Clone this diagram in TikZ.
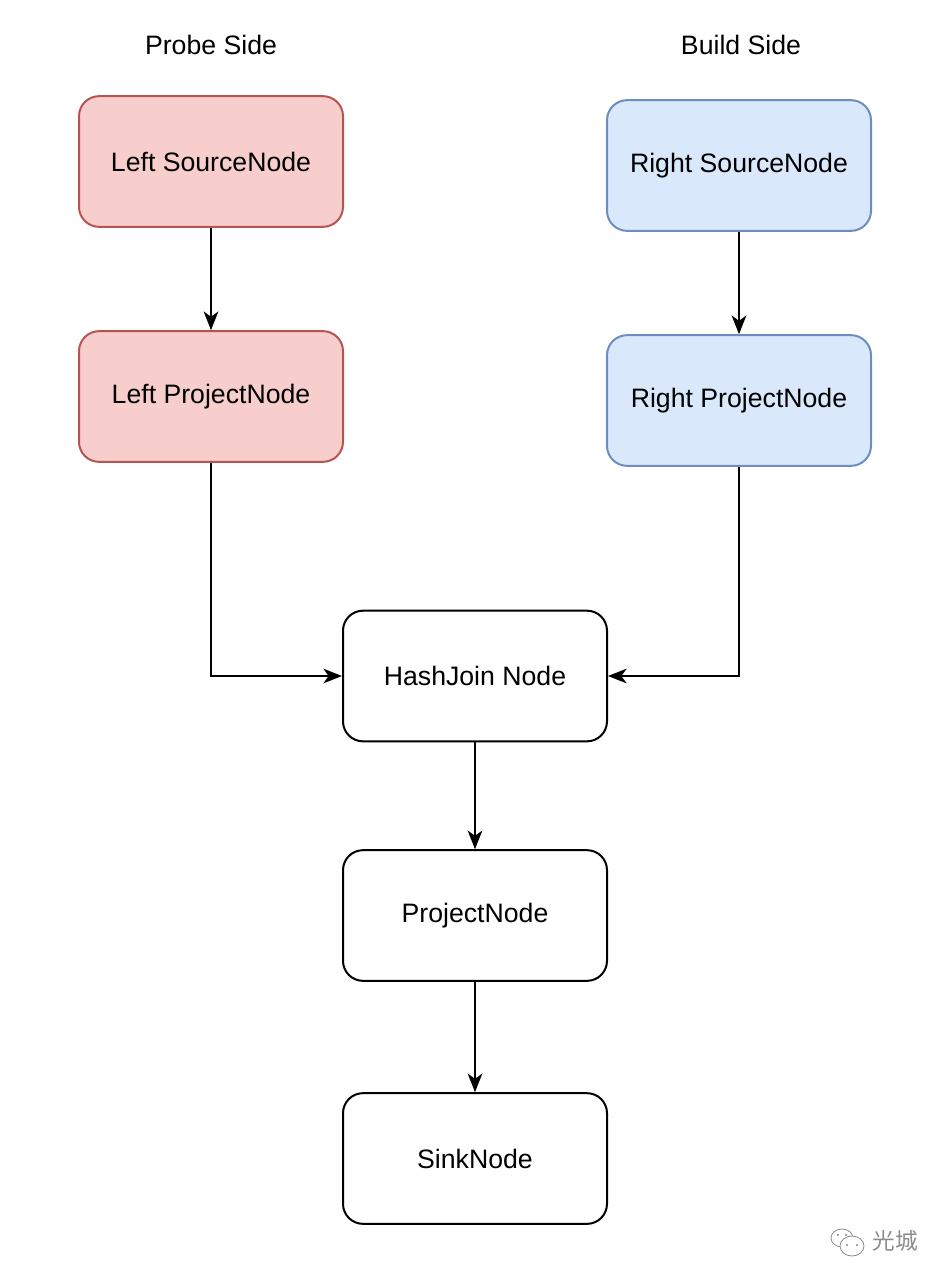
\documentclass[tikz,border=0pt]{standalone}
\usepackage{fontspec}
\setmainfont{Liberation Sans}
\newfontfamily\cjkfont{Noto Sans CJK SC}
\usetikzlibrary{arrows.meta}
\definecolor{redfill}{HTML}{F8CECC}
\definecolor{redline}{HTML}{B85450}
\definecolor{bluefill}{HTML}{DAE8FC}
\definecolor{blueline}{HTML}{6C8EBF}
\definecolor{wmgrey}{HTML}{8C8C8C}

\begin{document}
\begin{tikzpicture}[x=0.75pt,y=-0.75pt,font=\fontsize{20}{23}\selectfont,
  opbox/.style={draw,line width=1.5pt,rounded corners=15pt,minimum width=198pt,
    minimum height=98pt,inner sep=0pt,fill=white},
  probe/.style={opbox,draw=redline,fill=redfill},
  build/.style={opbox,draw=blueline,fill=bluefill},
  flow/.style={line width=1.5pt,-{Stealth[length=14pt,width=11pt,inset=4pt]}}]
  \useasboundingbox (0,0) rectangle (948,1282);
  % side titles
  \node (probetitle) at (211,45) {Probe Side};
  \node (buildtitle) at (741,45) {Build Side};
  % operators
  \node[probe] (lsource) at (211,161.5) {Left SourceNode};
  \node[probe] (lproject) at (211,396.5) {Left ProjectNode};
  \node[build] (rsource) at (739,165.5) {Right SourceNode};
  \node[build] (rproject) at (739,400.5) {Right ProjectNode};
  \node[opbox] (hashjoin) at (475,676) {HashJoin Node};
  \node[opbox] (project) at (475,915.5) {ProjectNode};
  \node[opbox] (sink) at (475,1158.5) {SinkNode};
  % edges
  \draw[flow] (lsource) -- (lproject);
  \draw[flow] (rsource) -- (rproject);
  \draw[flow] (lproject.south) |- (hashjoin.west);
  \draw[flow] (rproject.south) |- (hashjoin.east);
  \draw[flow] (hashjoin) -- (project);
  \draw[flow] (project) -- (sink);
  % watermark
  \begin{scope}[wmgrey,line width=0.6pt]
    \draw (842,1238) ellipse (11 and 9);
    \fill[white] (852,1246) ellipse (12 and 10);
    \draw (852,1246) ellipse (12 and 10);
    \foreach \cx/\cy in {838/1235,846/1235,847/1245,857/1245}
      \fill (\cx,\cy) circle (1.1);
  \end{scope}
  \node[text=wmgrey,font=\cjkfont\fontsize{17}{20}\selectfont] (wm) at (895,1241) {光城};
\end{tikzpicture}
\end{document}
